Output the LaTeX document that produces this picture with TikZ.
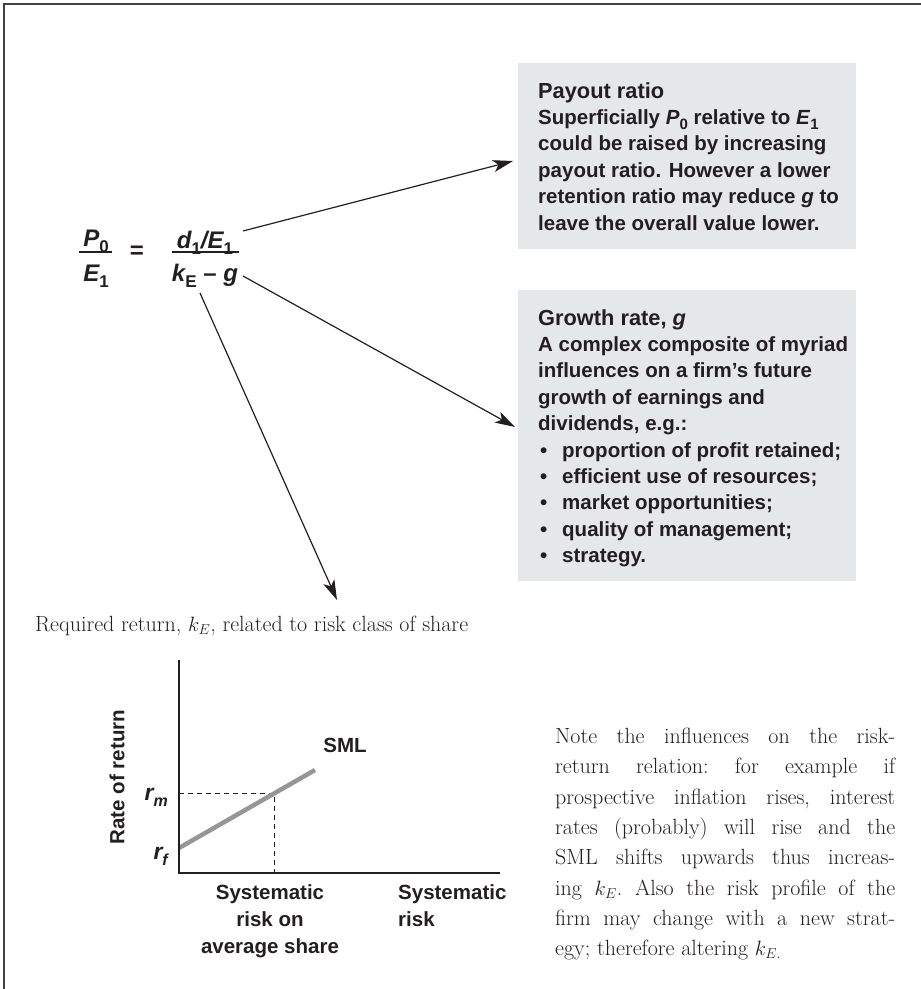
\documentclass[tikz,border=0pt]{standalone}
\usepackage{fontspec}
\newfontfamily\sansfam{Liberation Sans}
\usetikzlibrary{arrows.meta}
\definecolor{boxgray}{RGB}{230,231,232}
\definecolor{ink}{RGB}{35,31,32}
\definecolor{smlgray}{RGB}{150,150,150}
\newcommand\fsub[1]{\raisebox{-6pt}{\fontsize{17}{17}\selectfont\upshape #1}}
\newcommand\tsub[1]{\raisebox{-5pt}{\fontsize{15}{15}\selectfont\upshape #1}}
\newcommand\csub[1]{\raisebox{-6pt}{\fontsize{16}{16}\selectfont #1}}
\newcommand\boxtitle[1]{{\fontsize{21.8}{26.4}\selectfont #1}}
\newcommand\bul{\hspace*{2pt}\makebox[22pt][l]{•}}
\tikzset{
  framestyle/.style={line width=1.8pt, draw=ink!85},
  graybox/.style={fill=boxgray, draw=none, inner sep=0pt, anchor=north west},
  boxtext/.style={font=\sansfam\bfseries\fontsize{20.5}{26.4}\selectfont, text=ink, align=left, inner sep=0pt, anchor=north west},
  formula/.style={font=\sansfam\bfseries\itshape\fontsize{24}{24}\selectfont, text=ink, inner sep=0pt, anchor=base},
  fbar/.style={line width=1.8pt, draw=ink},
  arr/.style={-{Stealth[length=20pt,width=12pt,inset=5pt]}, line width=1.2pt, draw=ink},
  axisline/.style={line width=1.3pt, draw=ink},
  guide/.style={dash pattern=on 5pt off 4pt, line width=1pt, draw=ink},
  smlline/.style={line width=4.5pt, draw=smlgray},
  chartlabel/.style={font=\sansfam\bfseries\fontsize{20.5}{27}\selectfont, text=ink, inner sep=0pt, align=center},
  ratelabel/.style={font=\sansfam\bfseries\itshape\fontsize{23}{23}\selectfont, text=ink, inner sep=0pt, anchor=east},
  serif/.style={font=\frenchspacing\fontsize{22}{30.3}\selectfont, text=ink, inner sep=0pt}
}
\begin{document}
\begin{tikzpicture}[x=1pt,y=-1pt]
\useasboundingbox (0,0) rectangle (921,989);
% frame (top and left edges)
\coordinate (fbl) at (4,989);
\coordinate (ftl) at (4,4);
\coordinate (ftr) at (921,4);
\draw[framestyle] (fbl) -- (ftl) -- (ftr);

% formula
\node[formula] (P0) at (96,246) {P\fsub{0}};
\node[formula] (E1) at (96,281) {E\fsub{1}};
\coordinate (lb1) at (79,252); \coordinate (lb2) at (112,252);
\draw[fbar] (lb1) -- (lb2);
\node[formula, anchor=center, font=\sansfam\bfseries\fontsize{24}{24}\selectfont] (eq) at (137,252) {=};
\node[formula] (num) at (205,248) {d\fsub{1}/E\fsub{1}};
\node[formula] (den) at (205,281) {k\fsub{E} – g};
\coordinate (rb1) at (172,252); \coordinate (rb2) at (239,252);
\draw[fbar] (rb1) -- (rb2);

% boxes
\node[graybox, minimum width=338pt, minimum height=186pt] (payout) at (518,63) {};
\node[boxtext] (payouttext) at (538,82) {\rule{0pt}{15pt}\boxtitle{Payout ratio}\\
Superficially \textit{P}\tsub{0} relative to \textit{E}\tsub{1}\\
could be raised by increasing\\
payout ratio. However a lower\\
retention ratio may reduce \textit{g} to\\
leave the overall value lower.};

\node[graybox, minimum width=338pt, minimum height=291pt] (growth) at (518,290) {};
\node[boxtext] (growthtext) at (538,309) {\rule{0pt}{15pt}\boxtitle{Growth rate, \textit{g}}\\
A complex composite of myriad\\
influences on a firm’s future\\
growth of earnings and\\
dividends, e.g.:\\
\bul proportion of profit retained;\\
\bul efficient use of resources;\\
\bul market opportunities;\\
\bul quality of management;\\
\bul strategy.};

% arrows
\coordinate (a1s) at (243,231); \coordinate (a1e) at (513,161);
\coordinate (a2s) at (243,276); \coordinate (a2e) at (515,427);
\coordinate (a3s) at (200,293); \coordinate (a3e) at (337,600);
\draw[arr] (a1s) -- (a1e);
\draw[arr] (a2s) -- (a2e);
\draw[arr] (a3s) -- (a3e);

% required return caption
\node[serif, anchor=base west] (req) at (35,631) {Required return, $k_E$, related to risk class of share};

% chart
\coordinate (ytop) at (179,660);
\coordinate (orig) at (179,873);
\coordinate (xend) at (500,873);
\coordinate (rf) at (179,848);
\coordinate (smlend) at (315,770);
\coordinate (rmy) at (179,793);
\coordinate (mpt) at (274,793);
\coordinate (mx) at (274,873);
\draw[guide] (rmy) -- (mpt) -- (mx);
\draw[smlline] (rf) -- (smlend);
\draw[axisline] (ytop) -- (orig) -- (xend);
\node[chartlabel] (sml) at (345,745) {SML};
\node[ratelabel] (rm) at (168,797) {r\csub{m}};
\node[ratelabel] (rfl) at (168,856) {r\csub{f}};
\node[chartlabel, rotate=90] (rate) at (117,777) {Rate of return};
\node[chartlabel, anchor=north] (xl1) at (270,884) {\rule{0pt}{15pt}Systematic\\risk on\\average share};
\node[chartlabel, anchor=north west, align=left] (xl2) at (398,884) {\rule{0pt}{15pt}Systematic\\risk};

% note
\node[serif, anchor=north west, text width=340pt, align=justify] (note) at (555,728) {\rule{0pt}{15pt}Note the influences on the risk-\linebreak
return relation: for example if\linebreak
prospective inflation rises, interest\linebreak
rates (probably) will rise and the\linebreak
SML shifts upwards thus increas-\linebreak
ing $k_E$. Also the risk profile of the\linebreak
firm may change with a new strat-\linebreak
egy; therefore altering $k_{E.}$};
\end{tikzpicture}
\end{document}
